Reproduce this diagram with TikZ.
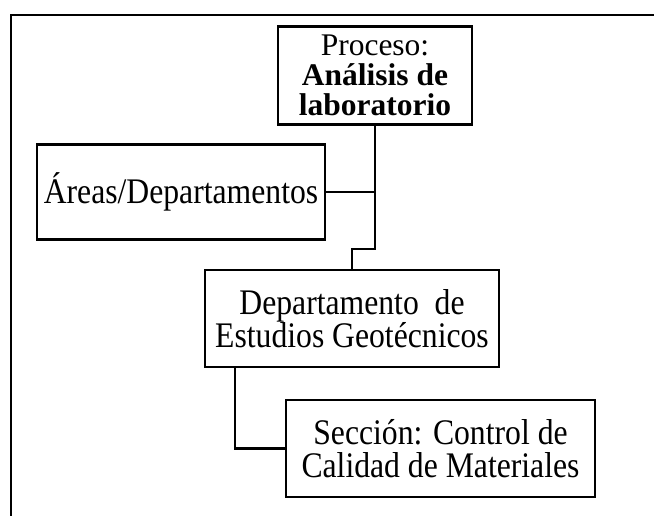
\documentclass[tikz,border=0pt]{standalone}
\usepackage{fontspec}
\setmainfont{Liberation Serif}
\newfontfamily\schmal[FakeStretch=0.88]{Liberation Serif}
\usetikzlibrary{calc}
\usetikzlibrary{positioning}
\tikzset{
	caja/.style={
		rectangle,
		draw=black, line width=2.3pt,
		inner sep=0pt,
		align=center,
		font=\schmal\fontsize{36}{33.5}\selectfont},
	cajatop/.style={
		caja,
		font=\fontsize{31.5}{30}\selectfont},
	linea/.style={draw, line width=2.3pt},
	marco/.style={draw, line width=2pt},
}
\begin{document}
\begin{tikzpicture}
	[x=1pt, y=-1pt]
	\useasboundingbox (0,0) rectangle (654,515);
	% marco exterior
	\draw[marco] (11,520) -- (11,15) -- (660,15);
	
	\node[cajatop, minimum width=194pt, minimum height=98pt] (proceso) at (375,75.5)
		{Proceso:\\ \textbf{Análisis de}\\ \textbf{laboratorio}};
	\node[caja, minimum width=288pt, minimum height=95pt] (areas) at (181,192)
		{Áreas/Departamentos};
	\node[caja, minimum width=294pt, minimum height=97pt] (depto) at (352,318.5)
		{Departamento\ \ de\\ Estudios Geotécnicos};
	\node[caja, minimum width=309pt, minimum height=97pt] (seccion) at (440.5,448.5)
		{Sección: Control de\\ Calidad de Materiales};
	
	\coordinate (knick) at (375,249);
	\draw[linea] (proceso.south) -- (knick) -| (depto.north);
	\draw[linea] (areas.east) -- (areas.east -| proceso.south);
	\draw[linea] ([xshift=-117pt]depto.south) |- (seccion.west);
	
\end{tikzpicture}
\end{document}
